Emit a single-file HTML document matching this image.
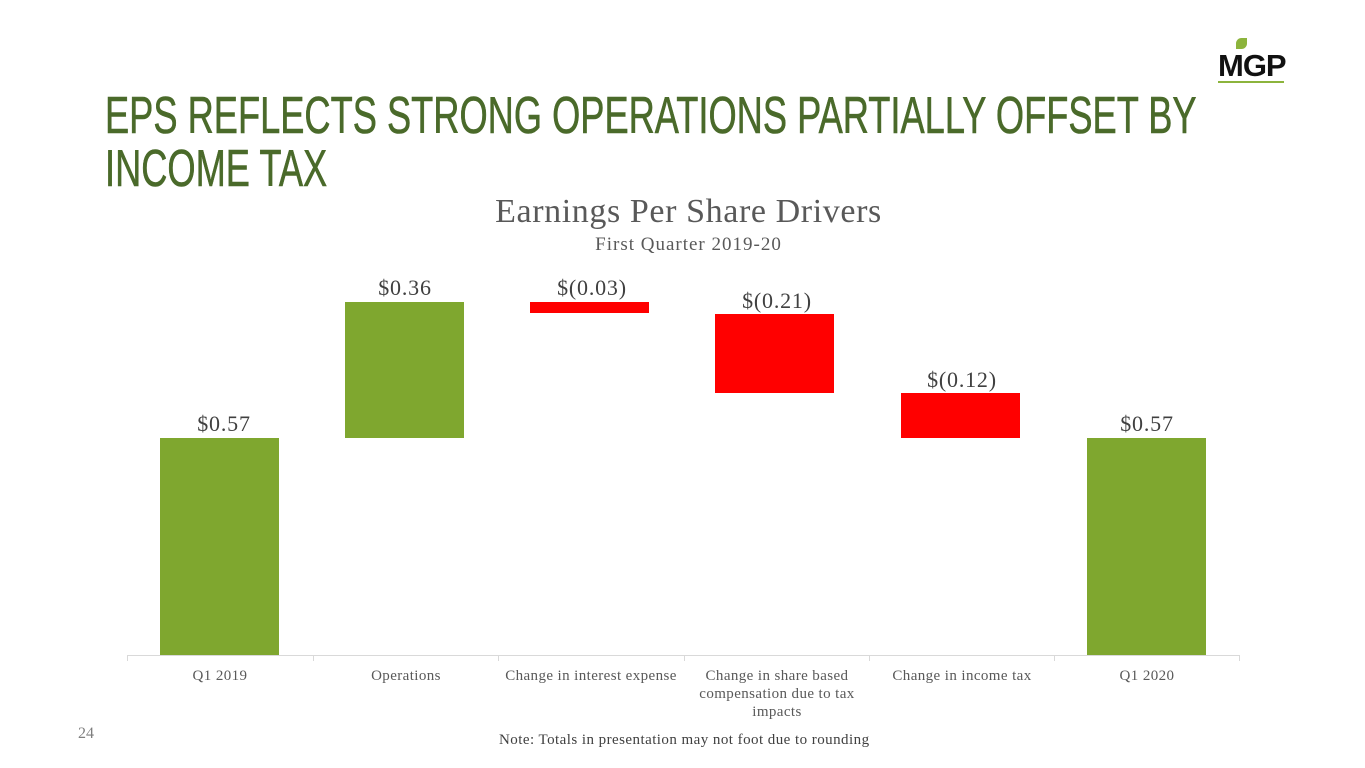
<!DOCTYPE html>
<html><head><meta charset="utf-8"><style>
body{margin:0;width:1365px;height:768px;background:#fff;position:relative;overflow:hidden;font-family:"Liberation Serif",serif}
.t{position:absolute;left:105px;color:#4a6a2a;font-family:"Liberation Sans",sans-serif;font-size:52px;line-height:53px;transform-origin:0 0;transform:scaleX(0.697);white-space:nowrap;-webkit-text-stroke:0.6px #4a6a2a}
.a{position:absolute;white-space:nowrap}
.b{position:absolute;width:119px}
.g{background:#7fa72f}.r{background:#ff0000}
.l{position:absolute;font-size:22px;letter-spacing:0.8px;color:#404040;text-align:center;width:160px}
.x{position:absolute;font-size:15px;letter-spacing:0.4px;color:#595959;text-align:center;width:186px;line-height:18px;white-space:normal}
</style></head><body>
<div class="t" style="top:90px">EPS REFLECTS STRONG OPERATIONS PARTIALLY OFFSET BY</div>
<div class="t" style="top:143px">INCOME TAX</div>
<div class="a" style="left:1218px;top:38px;width:85px;height:44px">
<div style="position:absolute;left:18px;top:0;width:11px;height:11px;background:#8cb43c;border-radius:50% 0"></div>
<div style="position:absolute;left:0;top:10px;font:bold 31px 'Liberation Sans',sans-serif;color:#111;letter-spacing:-1px">MGP</div>
<div style="position:absolute;left:0;top:43px;width:66px;height:2px;background:#8cb43c"></div>
</div>
<div class="a" style="left:0;width:1365px;text-align:center;top:193px;font-size:34px;letter-spacing:0.6px;color:#595959;padding-left:12px;box-sizing:border-box">Earnings Per Share Drivers</div>
<div class="a" style="left:0;width:1365px;text-align:center;top:234px;font-size:19px;letter-spacing:1px;color:#595959;padding-left:12px;box-sizing:border-box">First Quarter 2019-20</div>
<div class="b g" style="left:160px;top:438px;height:217px"></div>
<div class="b g" style="left:345px;top:302px;height:136px"></div>
<div class="b r" style="left:530px;top:302px;height:11px"></div>
<div class="b r" style="left:715px;top:314px;height:79px"></div>
<div class="b r" style="left:901px;top:393px;height:45px"></div>
<div class="b g" style="left:1087px;top:438px;height:217px"></div>
<div class="l" style="left:144px;top:411px">$0.57</div>
<div class="l" style="left:325px;top:275px">$0.36</div>
<div class="l" style="left:512px;top:275px">$(0.03)</div>
<div class="l" style="left:697px;top:288px">$(0.21)</div>
<div class="l" style="left:882px;top:367px">$(0.12)</div>
<div class="l" style="left:1067px;top:411px">$0.57</div>
<div class="a" style="left:127px;top:655px;width:1113px;height:1px;background:#d9d9d9"></div>
<div class="a" style="left:127px;top:655px;width:1px;height:6px;background:#d9d9d9"></div>
<div class="a" style="left:313px;top:655px;width:1px;height:6px;background:#d9d9d9"></div>
<div class="a" style="left:498px;top:655px;width:1px;height:6px;background:#d9d9d9"></div>
<div class="a" style="left:684px;top:655px;width:1px;height:6px;background:#d9d9d9"></div>
<div class="a" style="left:869px;top:655px;width:1px;height:6px;background:#d9d9d9"></div>
<div class="a" style="left:1054px;top:655px;width:1px;height:6px;background:#d9d9d9"></div>
<div class="a" style="left:1239px;top:655px;width:1px;height:6px;background:#d9d9d9"></div>
<div class="x" style="left:127px;top:667px">Q1 2019</div>
<div class="x" style="left:313px;top:667px">Operations</div>
<div class="x" style="left:486px;top:667px;width:210px">Change in interest expense</div>
<div class="x" style="left:684px;top:667px;width:186px">Change in share based<br>compensation due to tax<br>impacts</div>
<div class="x" style="left:869px;top:667px">Change in income tax</div>
<div class="x" style="left:1054px;top:667px">Q1 2020</div>
<div class="a" style="left:78px;top:725px;font-size:16px;color:#7f7f7f">24</div>
<div class="a" style="left:499px;top:732px;font-size:15px;letter-spacing:0.45px;color:#404040">Note: Totals in presentation may not foot due to rounding</div>
</body></html>
